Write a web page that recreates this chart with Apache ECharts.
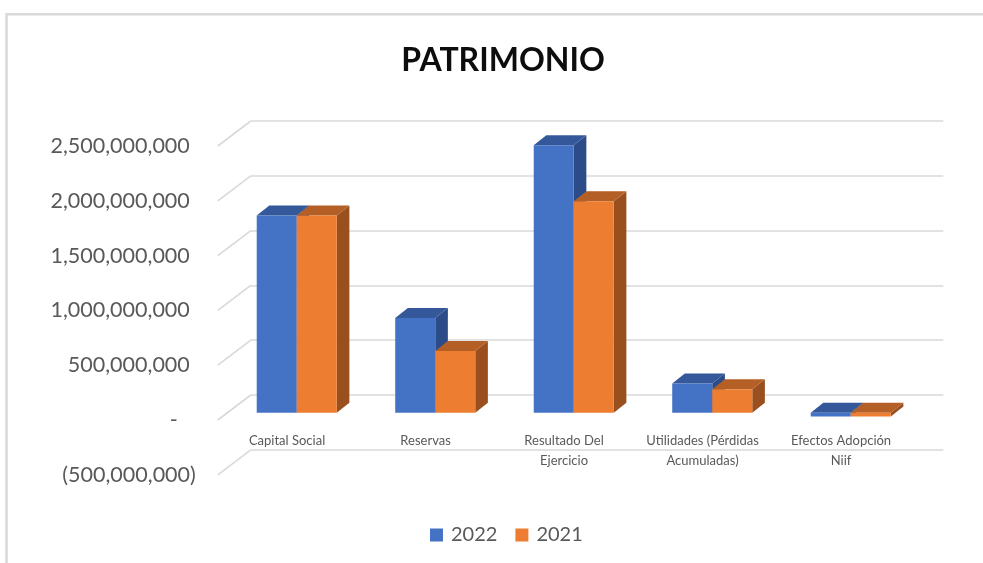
<!DOCTYPE html>
<html><head><meta charset="utf-8">
<script src="https://cdn.jsdelivr.net/npm/echarts@6/dist/echarts.min.js"></script>
<style>html,body{margin:0;padding:0;background:#fff}#c{width:983px;height:563px}</style>
</head><body><div id="c"></div>
<script>
const categories = ['Capital Social', 'Reservas', 'Resultado Del\nEjercicio', 'Utilidades (Pérdidas\nAcumuladas)', 'Efectos Adopción\nNiif'];
const seriesNames = ['2022', '2021'];
const values2022 = [1800000000, 865000000, 2440000000, 267000000, -35000000];
const values2021 = [1800000000, 563000000, 1930000000, 213000000, -35000000];
const yTicks = [-500000000, 0, 500000000, 1000000000, 1500000000, 2000000000, 2500000000];

const Y_MIN = yTicks[0], Y_MAX = yTicks[yTicks.length - 1], Y_INT = yTicks[1] - yTicks[0];
const plotW = 692.5, plotH = 328.8, frontL = 217.8, frontT = 146;
const wallOff = [33, -25];
const barOff = [9.7, -7.3];
const barDepth = [12.6, -10];
const GRAY = '#595959';
const FONT = 'Lato';
const zeroFromBottom = plotH * (0 - Y_MIN) / (Y_MAX - Y_MIN);

function fmt(n) { return Math.round(n).toString().replace(/\B(?=(\d{3})+(?!\d))/g, ','); }

function bar3d(side, colors) {
  return function (params, api) {
    const idx = api.value(0), v = api.value(1);
    const band = api.size([1, 0])[0];
    const bw = band * 0.289;
    const c0 = api.coord([idx, 0]);
    const c1 = api.coord([idx, v]);
    const x0 = side === 0 ? c0[0] - bw : c0[0];
    const top = Math.min(c0[1], c1[1]), bot = Math.max(c0[1], c1[1]);
    const dx = barDepth[0], dy = barDepth[1];
    return {
      type: 'group', children: [
        { type: 'polygon', shape: { points: [[x0 + bw, top], [x0 + bw + dx, top + dy], [x0 + bw + dx, bot + dy], [x0 + bw, bot]] }, style: { fill: colors.side } },
        { type: 'polygon', shape: { points: [[x0, top], [x0 + dx, top + dy], [x0 + bw + dx, top + dy], [x0 + bw, top]] }, style: { fill: colors.top } },
        { type: 'rect', shape: { x: x0, y: top, width: bw, height: bot - top }, style: { fill: colors.front } }
      ]
    };
  };
}

const blue = { front: '#4472c4', top: '#34589a', side: '#2b4c88' };
const orange = { front: '#ed7d31', top: '#b45f25', side: '#9a501e' };

const gridBase = { width: plotW, height: plotH, containLabel: false, outerBoundsMode: 'none' };
const yBase = { type: 'value', min: Y_MIN, max: Y_MAX, interval: Y_INT };

const chart = echarts.init(document.getElementById('c'), null, { renderer: 'canvas' });
chart.setOption({
  animation: false,
  backgroundColor: '#fff',
  title: {
    text: 'PATRIMONIO', left: 498, top: 40, textAlign: 'center',
    textStyle: { fontFamily: FONT, fontWeight: 'bold', fontSize: 32, color: '#0d0d0d' }
  },
  legend: {
    data: seriesNames, left: 425, top: 520, icon: 'rect', itemWidth: 13, itemHeight: 13, itemGap: 18,
    textStyle: { fontFamily: FONT, fontSize: 20, color: GRAY, padding: [0, 0, 0, 3] }
  },
  graphic: [{
    type: 'polyline', shape: { points: [[6.5, 563], [6.5, 14.3], [983, 14.3]] },
    style: { stroke: '#d9d9d9', lineWidth: 2.5, fill: null }, silent: true
  }],
  grid: [
    Object.assign({ left: frontL, top: frontT }, gridBase),
    Object.assign({ left: frontL + wallOff[0], top: frontT + wallOff[1] }, gridBase),
    Object.assign({ left: frontL + barOff[0], top: frontT + barOff[1] }, gridBase)
  ],
  xAxis: [
    {
      gridIndex: 0, type: 'category', data: categories, position: 'bottom', offset: -zeroFromBottom,
      axisLine: { show: false, onZero: false }, axisTick: { show: false }, splitLine: { show: false },
      axisLabel: { interval: 0, fontFamily: FONT, fontSize: 13, lineHeight: 20, color: GRAY, margin: 11 }
    },
    { gridIndex: 1, type: 'category', data: categories, show: false },
    { gridIndex: 2, type: 'category', data: categories, show: false }
  ],
  yAxis: [
    Object.assign({
      gridIndex: 0,
      axisLine: { show: false }, axisTick: { show: false }, splitLine: { show: false },
      axisLabel: {
        margin: 22, fontFamily: FONT, fontSize: 21.5, color: GRAY,
        formatter: function (v) {
          if (v < 0) return '{n|(' + fmt(-v) + ')}';
          if (v === 0) return '{n|-}{z| }';
          return '{n|' + fmt(v) + '}{p| }';
        },
        rich: {
          n: { fontFamily: FONT, fontSize: 21.5, color: GRAY },
          p: { width: 6, fontSize: 21.5 },
          z: { width: 18, fontSize: 21.5 }
        }
      }
    }, yBase),
    Object.assign({
      gridIndex: 1,
      axisLine: { show: false }, axisTick: { show: false }, axisLabel: { show: false },
      splitLine: { show: true, lineStyle: { color: '#d9d9d9', width: 1.6 } }
    }, yBase),
    Object.assign({ gridIndex: 2, show: false, splitLine: { show: false } }, yBase)
  ],
  series: [
    {
      type: 'custom', name: 'walls', xAxisIndex: 0, yAxisIndex: 0, silent: true,
      data: yTicks.map(v => [0, v]),
      renderItem: function (params, api) {
        const y = api.coord([0, api.value(1)])[1];
        const x = params.coordSys.x;
        return { type: 'line', shape: { x1: x, y1: y, x2: x + wallOff[0], y2: y + wallOff[1] }, style: { stroke: '#d9d9d9', lineWidth: 1.6 } };
      }
    },
    {
      type: 'custom', name: seriesNames[0], xAxisIndex: 2, yAxisIndex: 2,
      itemStyle: { color: blue.front },
      encode: { x: 0, y: 1 },
      data: values2022.map((v, i) => [i, v]),
      renderItem: bar3d(0, blue)
    },
    {
      type: 'custom', name: seriesNames[1], xAxisIndex: 2, yAxisIndex: 2,
      itemStyle: { color: orange.front },
      encode: { x: 0, y: 1 },
      data: values2021.map((v, i) => [i, v]),
      renderItem: bar3d(1, orange)
    }
  ]
});
</script>
</body></html>
